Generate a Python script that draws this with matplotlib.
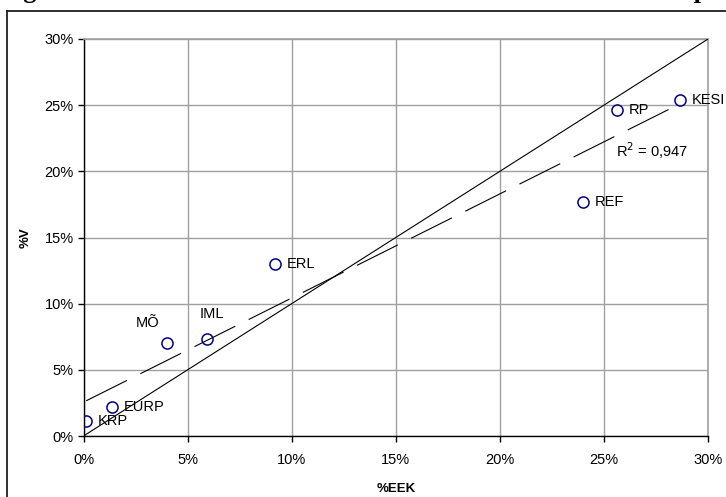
import numpy as np
import matplotlib.pyplot as plt
from matplotlib.lines import Line2D
from matplotlib.ticker import PercentFormatter

plt.rcParams['font.family'] = ['Liberation Sans', 'DejaVu Sans']

# party share of campaign spending (%EEK) vs share of votes (%V)
parties = ['KRP', 'EURP', 'MÕ', 'IML', 'ERL', 'REF', 'RP', 'KESI']
eek = np.array([0.13, 1.38, 4.03, 5.92, 9.19, 24.0, 25.63, 28.64])
votes = np.array([1.1, 2.2, 7.0, 7.3, 13.0, 17.7, 24.6, 25.4])
r2_text = 'R$^2$ = 0,947'

# label offsets in points (most labels sit right of the marker)
offsets = {'MÕ': (-14, 15), 'IML': (4, 18)}

fig = plt.figure(figsize=(7.26, 4.97), dpi=100)
W, H = 726, 497
ax = fig.add_axes([83.5 / W, (H - 436) / H, (708 - 83.5) / W, (436 - 39) / H])

# linear trend through the points
k, b = np.polyfit(eek, votes, 1)
xs = np.array([eek.min(), eek.max()])
ax.plot(xs, k * xs + b, color='black', lw=0.8, ls=(0, (41, 13.5)), zorder=3)

# y = x reference line
ax.plot([0, 30], [0, 30], color='black', lw=0.8, zorder=3)

ax.plot(eek, votes, 'o', ms=8, mfc='none', mec='#000080', mew=1.1, zorder=4)

for name, x, y in zip(parties, eek, votes):
    dx, dy = offsets.get(name, (8.5, 0))
    ha = 'center' if name in offsets else 'left'
    ax.annotate(name, (x, y), xytext=(dx, dy), textcoords='offset points',
                ha=ha, va='center', fontsize=10.5, annotation_clip=False,
                clip_on=False, zorder=5)

ax.text(25.6, 21.6, r2_text, fontsize=10.5, va='center', ha='left')

ax.set_xlim(0, 30)
ax.set_ylim(0, 30)
ax.set_xticks(np.arange(0, 31, 5))
ax.set_yticks(np.arange(0, 31, 5))
ax.xaxis.set_major_formatter(PercentFormatter(decimals=0))
ax.yaxis.set_major_formatter(PercentFormatter(decimals=0))
ax.tick_params(labelsize=10.5, length=4, width=1, color='black', direction='out')
ax.tick_params(axis='x', pad=8)
ax.tick_params(axis='y', pad=3)
ax.grid(True, color='#a0a0a0', lw=1)
ax.set_axisbelow(True)
for side in ['top', 'right']:
    ax.spines[side].set_color('#a0a0a0')
    ax.spines[side].set_linewidth(1.2)
for side in ['left', 'bottom']:
    ax.spines[side].set_color('black')
    ax.spines[side].set_linewidth(1)

ax.set_xlabel('%EEK', fontsize=9.5, fontweight='bold', labelpad=12)
ax.set_ylabel('%V', fontsize=9.5, fontweight='bold', labelpad=9)

# outer border of the chart area
fig.add_artist(Line2D([7 / W, 1], [1 - 11 / H] * 2, transform=fig.transFigure,
                      color='#202020', lw=1.3))
fig.add_artist(Line2D([7 / W] * 2, [0, 1 - 11 / H], transform=fig.transFigure,
                      color='#202020', lw=1.3))

# caption above the border, mostly outside the canvas
fig.text(0.0, 1 + 2 / H, 'Fig. 3. Vote share and election cost share of the main Estonian political parties',
         family='Liberation Serif', fontweight='bold', fontsize=18.8,
         va='baseline', ha='left')

fig.savefig('out.png', dpi=100)
